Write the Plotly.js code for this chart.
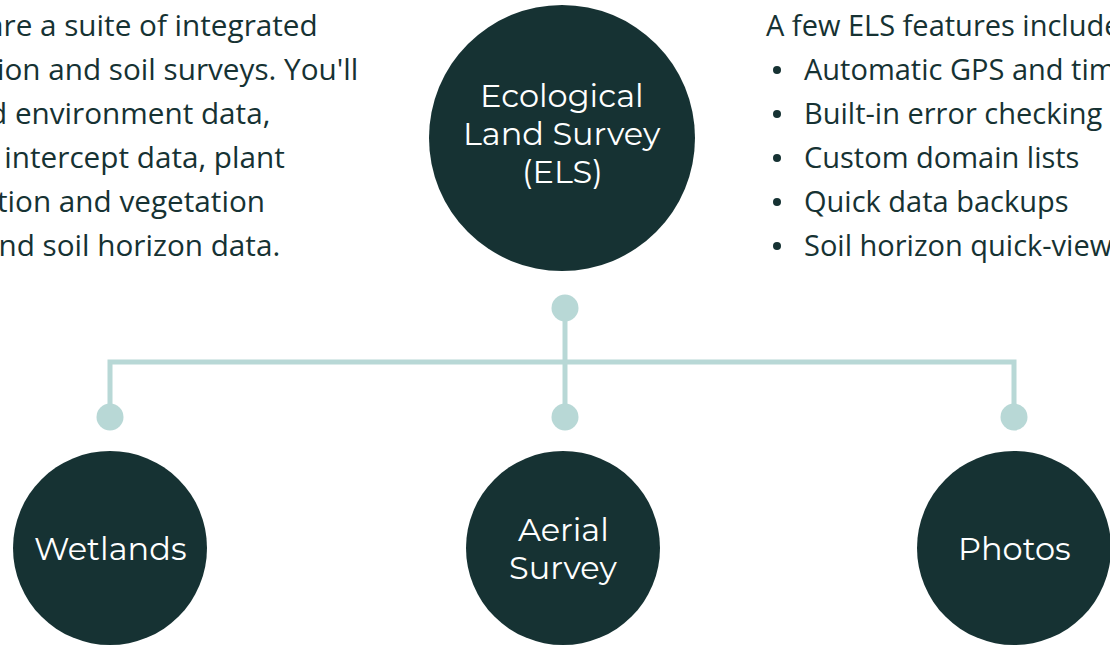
<!DOCTYPE html>
<html>
<head>
<meta charset="utf-8">
<script src="https://cdn.plot.ly/plotly-3.0.1.min.js"></script>
<style>
html,body{margin:0;padding:0;background:#fff;overflow:hidden;}
#chart{width:1110px;height:645px;}
</style>
</head>
<body>
<div id="chart"></div>
<script>
// ---- content ----
const introLines = [
  "are a suite of integrated",
  "ion and soil surveys. You'll",
  "d environment data,",
  "t intercept data, plant",
  "tion and vegetation",
  "and soil horizon data."
];
const featureTitle = "A few ELS features include:";
const featureItems = [
  "Automatic GPS and time stamps",
  "Built-in error checking",
  "Custom domain lists",
  "Quick data backups",
  "Soil horizon quick-view"
];
const rootLabelLines = ["Ecological", "Land Survey", "(ELS)"];
const childLabelLines = [["Wetlands"], ["Aerial", "Survey"], ["Photos"]];

// ---- layout geometry (pixels) ----
const W = 1110, H = 645;
const dark = "#163233";
const light = "#b8d8d6";
const root = {x: 562, y: 138, r: 133};
const childX = [110, 563, 1014];
const childY = 548, childR = 97;
const busY = 362, topDotY = 308, lowDotY = 417, stemX = 565;
const introRight = [320, 360, 272, 287, 267, 282];
const rowY0 = 24, rowStep = 44;
const labelStep = 38;

const shapes = [];
shapes.push({type:'circle', xref:'x', yref:'y', x0:root.x-root.r, x1:root.x+root.r,
  y0:root.y-root.r, y1:root.y+root.r, fillcolor:dark, line:{width:0}, layer:'below'});
childX.forEach(cx => shapes.push({type:'circle', xref:'x', yref:'y', x0:cx-childR, x1:cx+childR,
  y0:childY-childR, y1:childY+childR, fillcolor:dark, line:{width:0}, layer:'below'}));

const traces = [];
traces.push({x:[childX[0], childX[0], childX[2], childX[2]], y:[lowDotY, busY, busY, lowDotY],
  mode:'lines', line:{color:light, width:5}, hoverinfo:'skip'});
traces.push({x:[stemX, stemX], y:[topDotY, lowDotY], mode:'lines', line:{color:light, width:5}, hoverinfo:'skip'});
traces.push({x:[stemX, childX[0], stemX, childX[2]], y:[topDotY, lowDotY, lowDotY, lowDotY],
  mode:'markers', marker:{color:light, size:27, line:{width:0}}, hoverinfo:'skip'});
traces.push({x:featureItems.map(()=>777), y:featureItems.map((_,i)=>rowY0+rowStep*(i+1)+2),
  mode:'markers', marker:{color:dark, size:8, line:{width:0}}, hoverinfo:'skip'});

const annotations = [];
const introFont = {family:"Open Sans", size:29.7, color:dark};
const bodyFont = {family:"Open Sans", size:29, color:dark};
introLines.forEach((t,i) => annotations.push({xref:'x', yref:'y', x:introRight[i], y:rowY0+rowStep*i,
  text:t, showarrow:false, xanchor:'right', yanchor:'middle', font:introFont}));
annotations.push({xref:'x', yref:'y', x:764, y:rowY0, text:featureTitle, showarrow:false,
  xanchor:'left', yanchor:'middle', font:bodyFont});
featureItems.forEach((t,i) => annotations.push({xref:'x', yref:'y', x:802, y:rowY0+rowStep*(i+1),
  text:t, showarrow:false, xanchor:'left', yanchor:'middle', font:bodyFont}));
const circFont = {family:"Montserrat, Inter, sans-serif", size:32, color:"#ffffff"};
function addLabel(lines, cx, cy) {
  const n = lines.length;
  lines.forEach((t,k) => annotations.push({xref:'x', yref:'y', x:cx,
    y:cy + (k-(n-1)/2)*labelStep, text:t, showarrow:false,
    xanchor:'center', yanchor:'middle', font:circFont}));
}
addLabel(rootLabelLines, root.x, 133);
childLabelLines.forEach((lines,i) => addLabel(lines, childX[i], childY));

const layout = {
  width:W, height:H, margin:{l:0,r:0,t:0,b:0},
  paper_bgcolor:'#ffffff', plot_bgcolor:'#ffffff', showlegend:false,
  xaxis:{range:[0,W], visible:false, fixedrange:true},
  yaxis:{range:[H,0], visible:false, fixedrange:true},
  shapes:shapes, annotations:annotations
};
Plotly.newPlot('chart', traces, layout, {displayModeBar:false, staticPlot:true});
</script>
</body>
</html>
